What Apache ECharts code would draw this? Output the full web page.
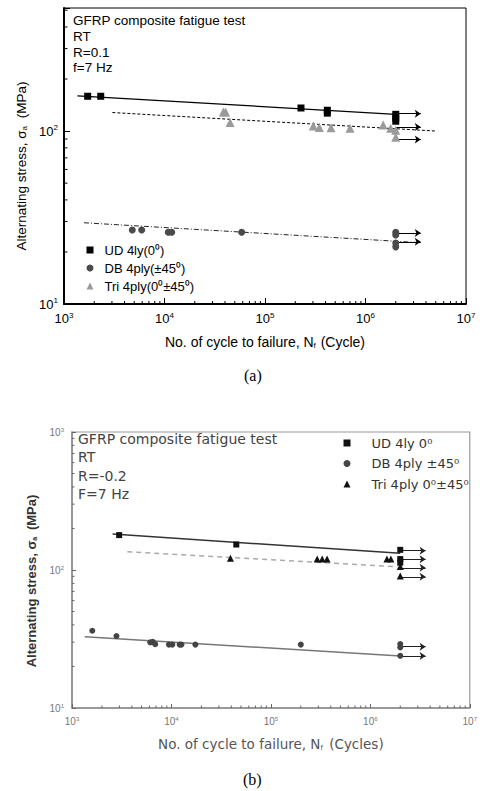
<!DOCTYPE html>
<html>
<head>
<meta charset="utf-8">
<script src="https://cdn.jsdelivr.net/npm/echarts@6/dist/echarts.min.js"></script>
<style>
html, body { margin: 0; padding: 0; background: #fff; }
#main { width: 480px; height: 791px; }
</style>
</head>
<body>
<div id="main"></div>
<script>
// (a) R=0.1
var udA_N = [1720, 2320, 228000, 417000, 417000, 2e6, 2e6, 2e6];
var udA_S = [159, 159, 136, 132, 127, 125, 119, 114];
var dbA_N = [4780, 5930, 10900, 11800, 58600, 2e6, 2e6, 2e6, 2e6];
var dbA_S = [26.8, 26.8, 26.0, 26.0, 26.0, 26.0, 25.1, 22.5, 21.4];
var triA_N = [38500, 40500, 44900, 302000, 347000, 454000, 701000, 1.5e6, 1.78e6, 2e6, 2e6];
var triA_S = [129, 129, 112, 107, 105, 104.5, 104, 108.5, 104, 101, 92];
var udFitA = [[1360, 160], [2e6, 125]];
var triFitA = [[3030, 128], [5.1e6, 100]];
var dbFitA = [[1580, 29.5], [3.2e6, 22.7]];
var runoutA = [126, 105.5, 89.5, 25.7, 22.9];

// (b) R=-0.2
var udB_N = [2980, 44900, 2e6, 2e6, 2e6];
var udB_S = [179, 153, 140, 120, 113];
var dbB_N = [1600, 2800, 6120, 6500, 6860, 9440, 10200, 12100, 12600, 17400, 200000, 2e6, 2e6, 2e6];
var dbB_S = [36.3, 33.2, 29.9, 30.2, 29.0, 28.8, 28.8, 28.8, 28.8, 28.8, 28.8, 29.1, 27.5, 23.9];
var triB_N = [39200, 292000, 328000, 367000, 1.47e6, 1.61e6, 2e6, 2e6];
var triB_S = [121.6, 120, 120, 120, 120, 120, 106, 90.5];
var udFitB = [[2560, 182], [2e6, 132]];
var triFitB = [[3600, 135.7], [1.87e6, 105.7]];
var dbFitB = [[1345, 32.9], [2e6, 23.8]];
var runoutB = [138, 119.7, 103.8, 89.3, 27.8, 23.8];

var runoutStart = 2e6;
var runoutEndA = 3.55e6;
var runoutEndB = 3.6e6;

var namesA = ['UD 4ly(0\u2070)', 'DB 4ply(\u00b145\u2070)', 'Tri 4ply(0\u2070\u00b145\u2070)'];
var namesB = ['UD 4ly 0\u2070', 'DB 4ply \u00b145\u2070', 'Tri 4ply 0\u2070\u00b145\u2070'];

// minor tick positions (2..9 x 10^n)
var minorX = [];
for (var e = 3; e < 7; e++) for (var m = 2; m < 10; m++) minorX.push(m * Math.pow(10, e));
var minorYA = [], minorYB = [];
for (var e2 = 1; e2 < 3; e2++) for (var m2 = 2; m2 < 10; m2++) {
  var v = m2 * Math.pow(10, e2);
  minorYB.push(v);
  if (v < 515) minorYA.push(v);
}

function zip(xs, ys) { return xs.map(function (x, i) { return [x, ys[i]]; }); }

function powLabel(v) {
  var lg = Math.log10(v);
  var e = Math.round(lg);
  if (Math.abs(lg - e) > 1e-6) return '';
  return '10{s|' + e + '}';
}

function minorTicks(xi, data, dir, len, color) {
  return {
    type: 'custom', xAxisIndex: xi, yAxisIndex: xi, silent: true, z: 5,
    data: data,
    renderItem: function (params, api) {
      var p = api.coord([api.value(0), api.value(1)]);
      return {
        type: 'line',
        shape: { x1: p[0], y1: p[1], x2: dir === 'x' ? p[0] : p[0] + len, y2: dir === 'x' ? p[1] - len : p[1] },
        style: { stroke: color, lineWidth: 1 }
      };
    }
  };
}

function arrows(xi, vals, end, color) {
  return {
    type: 'lines', coordinateSystem: 'cartesian2d', xAxisIndex: xi, yAxisIndex: xi,
    symbol: ['none', 'arrow'], symbolSize: 6, silent: true, z: 4,
    lineStyle: { color: color, width: 1.2, opacity: 1 },
    data: vals.map(function (s) { return { coords: [[runoutStart, s], [end, s]] }; })
  };
}

function fit(xi, data, color, type, width) {
  return {
    type: 'line', xAxisIndex: xi, yAxisIndex: xi, data: data, showSymbol: false, silent: true, z: 3,
    lineStyle: { color: color, type: type, width: width }
  };
}

var chart = echarts.init(document.getElementById('main'), null, { renderer: 'svg' });

var option = {
  animation: false,
  backgroundColor: '#fff',
  title: [
    {
      text: 'GFRP composite fatigue test\nRT\nR=0.1\nf=7 Hz', left: 73, top: 13, padding: 0,
      textStyle: { fontFamily: 'Liberation Sans', fontSize: 13.5, fontWeight: 'normal', color: '#000', lineHeight: 15.7 }
    },
    {
      text: 'GFRP composite fatigue test\nRT\nR=-0.2\nF=7 Hz', left: 78, top: 430, padding: 0,
      textStyle: { fontFamily: 'DejaVu Sans', fontSize: 14, fontWeight: 'normal', color: '#444', lineHeight: 18.3 }
    },
    {
      text: '(a)', left: 244, top: 367, padding: 0,
      textStyle: { fontFamily: 'Liberation Serif', fontSize: 16, fontWeight: 'normal', color: '#000' }
    },
    {
      text: '(b)', left: 243, top: 771, padding: 0,
      textStyle: { fontFamily: 'Liberation Serif', fontSize: 16, fontWeight: 'normal', color: '#000' }
    }
  ],
  legend: [
    {
      data: namesA, orient: 'vertical', left: 86.5, top: 243, padding: 0,
      itemWidth: 7, itemHeight: 7, itemGap: 4,
      textStyle: { fontFamily: 'Liberation Sans', fontSize: 13, color: '#000', lineHeight: 14, padding: [0, 0, 0, 6] }
    },
    {
      data: namesB, orient: 'vertical', left: 343.5, top: 435, padding: 0,
      itemWidth: 7, itemHeight: 7, itemGap: 4.5,
      textStyle: { fontFamily: 'DejaVu Sans', fontSize: 13, color: '#333', lineHeight: 16, padding: [0, 0, 0, 16] }
    }
  ],
  grid: [
    { left: 64, top: 8, width: 402, height: 296, show: true, borderColor: '#000', borderWidth: 1 },
    { left: 72, top: 432, width: 405, height: 276, show: true, borderColor: '#999', borderWidth: 1.2 }
  ],
  xAxis: [
    {
      type: 'log', gridIndex: 0, min: 1e3, max: 1e7, logBase: 10,
      name: 'No. of cycle to failure, N{sub|f} (Cycle)', nameLocation: 'middle', nameGap: 31,
      nameTextStyle: { fontFamily: 'Liberation Sans', fontSize: 14, color: '#000',
        rich: { sub: { fontSize: 8, verticalAlign: 'bottom', padding: [6, 1, 0, 0] } } },
      axisLine: { lineStyle: { color: '#000', width: 2 } },
      axisTick: { inside: true, length: 6, lineStyle: { color: '#000' } },
      splitLine: { show: false },
      axisLabel: { formatter: powLabel, margin: 7, fontFamily: 'Liberation Sans', fontSize: 13, color: '#000',
        rich: { s: { fontSize: 8, verticalAlign: 'top', padding: [0, 0, 7, 0] } } }
    },
    {
      type: 'log', gridIndex: 1, min: 1e3, max: 1e7, logBase: 10,
      name: 'No. of cycle to failure, N{sub|f} (Cycles)', nameLocation: 'middle', nameGap: 29,
      nameTextStyle: { fontFamily: 'DejaVu Sans', fontSize: 13.5, color: '#555',
        rich: { sub: { fontSize: 7, verticalAlign: 'bottom', padding: [6, 2, 0, 0] } } },
      axisLine: { lineStyle: { color: '#888', width: 1.5 } },
      axisTick: { inside: true, length: 4, lineStyle: { color: '#666' } },
      splitLine: { show: false },
      axisLabel: { formatter: powLabel, margin: 8, fontFamily: 'Liberation Sans', fontSize: 10, color: '#777',
        rich: { s: { fontSize: 6, verticalAlign: 'top', padding: [0, 0, 5, 0] } } }
    }
  ],
  yAxis: [
    {
      type: 'log', gridIndex: 0, min: 10, max: 515, logBase: 10,
      name: 'Alternating stress, \u03c3{sub|a} (MPa)', nameLocation: 'middle', nameGap: 34,
      nameTextStyle: { fontFamily: 'Liberation Sans', fontSize: 13.5, color: '#000', padding: [0, 20, 0, 0],
        rich: { sub: { fontSize: 8, verticalAlign: 'bottom', padding: [6, 4, 0, 0] } } },
      axisLine: { lineStyle: { color: '#000', width: 2 } },
      axisTick: { inside: true, length: 6, lineStyle: { color: '#000' } },
      splitLine: { show: false },
      axisLabel: { formatter: powLabel, margin: 6, fontFamily: 'Liberation Sans', fontSize: 13, color: '#000',
        rich: { s: { fontSize: 8, verticalAlign: 'top', padding: [0, 0, 7, 0] } } }
    },
    {
      type: 'log', gridIndex: 1, min: 10, max: 1000, logBase: 10,
      name: 'Alternating stress, \u03c3{sub|a} (MPa)', nameLocation: 'middle', nameGap: 34,
      nameTextStyle: { fontFamily: 'Liberation Sans', fontSize: 13, fontWeight: 'bold', color: '#333', padding: [0, 22, 0, 0],
        rich: { sub: { fontSize: 7, fontWeight: 'bold', verticalAlign: 'bottom', padding: [6, 3, 0, 0] } } },
      axisLine: { lineStyle: { color: '#888', width: 1.5 } },
      axisTick: { inside: true, length: 4, lineStyle: { color: '#666' } },
      splitLine: { show: false },
      axisLabel: { formatter: powLabel, margin: 8, fontFamily: 'Liberation Sans', fontSize: 10, color: '#777',
        rich: { s: { fontSize: 6, verticalAlign: 'top', padding: [0, 0, 5, 0] } } }
    }
  ],
  series: [
    fit(0, udFitA, '#000', 'solid', 1.2),
    fit(0, triFitA, '#000', [3, 2], 1),
    fit(0, dbFitA, '#222', [5, 2, 1, 2], 1),
    arrows(0, runoutA, runoutEndA, '#000'),
    { name: namesA[0], type: 'scatter', xAxisIndex: 0, yAxisIndex: 0, symbol: 'rect', symbolSize: 7,
      itemStyle: { color: '#000', opacity: 1 }, data: zip(udA_N, udA_S), z: 6 },
    { name: namesA[1], type: 'scatter', xAxisIndex: 0, yAxisIndex: 0, symbol: 'circle', symbolSize: 7,
      itemStyle: { color: '#4a4a4a', opacity: 1 }, data: zip(dbA_N, dbA_S), z: 6 },
    { name: namesA[2], type: 'scatter', xAxisIndex: 0, yAxisIndex: 0, symbol: 'triangle', symbolSize: 9,
      itemStyle: { color: '#9a9a9a', opacity: 1 }, data: zip(triA_N, triA_S), z: 6 },

    fit(1, udFitB, '#333', 'solid', 1.5),
    fit(1, triFitB, '#aaa', [5, 4], 1.5),
    fit(1, dbFitB, '#777', 'solid', 1.5),
    arrows(1, runoutB, runoutEndB, '#222'),
    { name: namesB[0], type: 'scatter', xAxisIndex: 1, yAxisIndex: 1, symbol: 'rect', symbolSize: 6,
      itemStyle: { color: '#111', opacity: 1 }, data: zip(udB_N, udB_S), z: 6 },
    { name: namesB[1], type: 'scatter', xAxisIndex: 1, yAxisIndex: 1, symbol: 'circle', symbolSize: 6,
      itemStyle: { color: '#444', opacity: 1 }, data: zip(dbB_N, dbB_S), z: 6 },
    { name: namesB[2], type: 'scatter', xAxisIndex: 1, yAxisIndex: 1, symbol: 'triangle', symbolSize: 7,
      itemStyle: { color: '#111', opacity: 1 }, data: zip(triB_N, triB_S), z: 6 },

    minorTicks(0, minorX.map(function (x) { return [x, 10]; }), 'x', 3, '#000'),
    minorTicks(0, minorYA.map(function (y) { return [1e3, y]; }), 'y', 3.5, '#000'),
    minorTicks(1, minorX.map(function (x) { return [x, 10]; }), 'x', 2.5, '#666'),
    minorTicks(1, minorYB.map(function (y) { return [1e3, y]; }), 'y', 2.5, '#666')
  ]
};

chart.setOption(option);
</script>
</body>
</html>
